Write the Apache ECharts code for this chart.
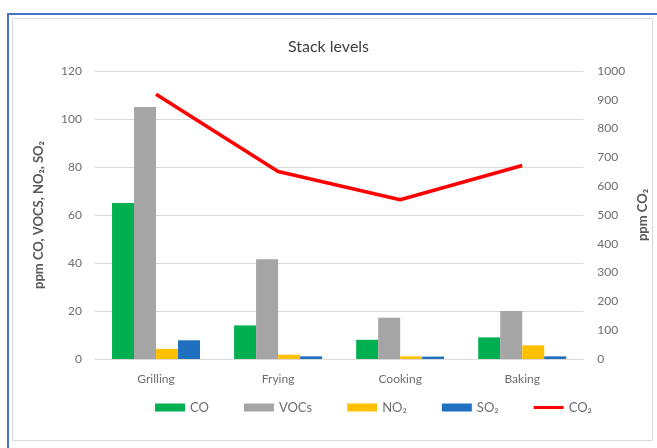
<!DOCTYPE html>
<html>
<head>
<meta charset="utf-8">
<script src="https://cdn.jsdelivr.net/npm/echarts@6/dist/echarts.min.js"></script>
<style>
  html, body { margin: 0; padding: 0; background: #fff; }
  #chart { width: 657px; height: 448px; }
</style>
</head>
<body>
<div id="chart"></div>
<script>
// categories and series values
const categories = ['Grilling', 'Frying', 'Cooking', 'Baking']
const coValues = [65, 14, 8, 9]
const vocValues = [105, 41.6, 17.2, 20]
const no2Values = [4.2, 1.8, 1.1, 5.7]
const so2Values = [7.8, 1.1, 1.0, 1.1]
const co2Values = [919, 651, 553, 672]

const FONT = 'Lato'
const labelColor = '#6e6e6e'
const gridColor = '#d9d9d9'

const chart = echarts.init(document.getElementById('chart'))

const barSeries = (name, data, color) => ({
  name,
  type: 'bar',
  yAxisIndex: 0,
  data,
  barWidth: 22,
  barGap: '0%',
  itemStyle: { color }
})

chart.setOption({
  animation: false,
  textStyle: { fontFamily: FONT },
  title: {
    text: 'Stack levels',
    left: 'center',
    top: 34,
    textStyle: { fontFamily: FONT, fontSize: 16, fontWeight: 'normal', color: '#404040' }
  },
  // frame: blue outer border and grey inner border
  graphic: [
    { type: 'rect', shape: { x: 8, y: 14, width: 700, height: 500 }, style: { fill: 'none', stroke: '#4472c4', lineWidth: 2 } },
    { type: 'rect', shape: { x: 12.5, y: 18.5, width: 640, height: 422 }, style: { fill: 'none', stroke: '#d9d9d9', lineWidth: 1 } }
  ],
  legend: {
    bottom: 29,
    left: 150,
    itemWidth: 30,
    itemHeight: 8,
    itemGap: 35,
    textStyle: { fontFamily: FONT, fontSize: 13, color: labelColor },
    data: [
      { name: 'CO', icon: 'rect' },
      { name: 'VOCs', icon: 'rect' },
      { name: 'NO₂', icon: 'rect' },
      { name: 'SO₂', icon: 'rect' },
      { name: 'CO₂', icon: 'path://M0,0H30V3H0Z' }
    ]
  },
  grid: { left: 95, right: 72, top: 71, bottom: 89 },
  xAxis: {
    type: 'category',
    data: categories,
    axisTick: { show: false },
    axisLine: { lineStyle: { color: gridColor } },
    axisLabel: { color: labelColor, fontSize: 12, margin: 14 }
  },
  yAxis: [
    {
      type: 'value',
      min: 0,
      max: 120,
      interval: 20,
      name: 'ppm CO, VOCS, NO₂, SO₂',
      nameLocation: 'middle',
      nameGap: 50,
      nameTextStyle: { fontFamily: FONT, fontSize: 13, fontWeight: 'bold', color: '#595959' },
      axisLine: { show: false },
      axisTick: { show: false },
      axisLabel: { color: labelColor, fontSize: 12, margin: 13 },
      splitLine: { lineStyle: { color: gridColor } }
    },
    {
      type: 'value',
      min: 0,
      max: 1000,
      interval: 100,
      name: 'ppm CO₂',
      nameLocation: 'middle',
      nameRotate: 90,
      nameGap: 52,
      nameTextStyle: { fontFamily: FONT, fontSize: 13, fontWeight: 'bold', color: '#595959' },
      axisLine: { show: false },
      axisTick: { show: false },
      axisLabel: { color: labelColor, fontSize: 12, margin: 14, formatter: (v) => String(v) },
      splitLine: { show: false }
    }
  ],
  series: [
    barSeries('CO', coValues, '#00b050'),
    barSeries('VOCs', vocValues, '#a5a5a5'),
    barSeries('NO₂', no2Values, '#ffc000'),
    barSeries('SO₂', so2Values, '#1f70c1'),
    {
      name: 'CO₂',
      type: 'line',
      yAxisIndex: 1,
      data: co2Values,
      symbol: 'none',
      lineStyle: { color: '#ff0000', width: 3.5 },
      itemStyle: { color: '#ff0000' }
    }
  ]
})
</script>
</body>
</html>
